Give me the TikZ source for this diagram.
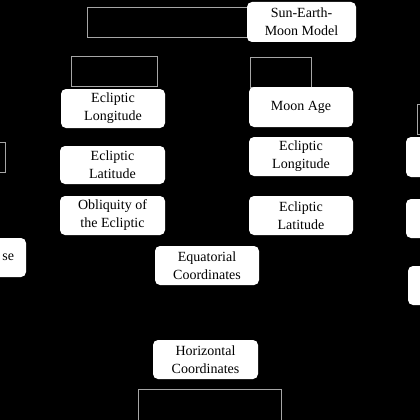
\documentclass[tikz,border=0pt]{standalone}
\usepackage{fontspec}
\setmainfont{Liberation Serif}

\begin{document}
\begin{tikzpicture}[x=1pt, y=-1pt,
    box/.style={fill=white, rounded corners=5pt, align=center, inner sep=0pt,
        minimum width=104pt, minimum height=39pt,
        font=\fontsize{14}{18}\selectfont},
    frame/.style={draw=black!35, line width=0.9pt}]
    % Background
    \fill[black] (0,0) rectangle (420,420);
    \useasboundingbox (0,0) rectangle (420,420);

    % Empty frames
    \draw[frame] (87,7) rectangle (248,37);
    \draw[frame] (71,56) rectangle (157,86);
    \draw[frame] (250,57) rectangle (311,87);
    \draw[frame] (-20,142) rectangle (5,172);
    \draw[frame] (417,104) rectangle (440,134);
    \draw[frame] (138,389) rectangle (281,440);

    % Model
    \node[box, minimum width=109pt, minimum height=40pt] (model) at (301.5,22) {Sun-Earth-\\Moon Model};

    % Left column
    \node[box] (sunlon) at (113,108.5) {Ecliptic\\Longitude};
    \node[box, minimum width=105pt, minimum height=38pt] (sunlat) at (112.5,165) {Ecliptic\\Latitude};
    \node[box, minimum width=105pt] (obliq) at (112.5,215.5) {Obliquity of\\the Ecliptic};

    % Right column
    \node[box, minimum height=40pt] (moonage) at (301,107) {Moon Age};
    \node[box] (moonlon) at (301,156.5) {Ecliptic\\Longitude};
    \node[box] (moonlat) at (301,215.5) {Ecliptic\\Latitude};

    % Coordinates
    \node[box] (equat) at (207,265.5) {Equatorial\\Coordinates};
    \node[box, minimum width=105pt] (horiz) at (205.5,359.5) {Horizontal\\Coordinates};

    % Cut boxes at the edges
    \node[box, minimum width=106pt] (phase) at (-27,257.5) {};
    \node[anchor=east, inner sep=0pt, font=\fontsize{14}{18}\selectfont] (phasetxt) at ([xshift=-12pt]phase.east) {se};
    \node[box, minimum width=104pt, minimum height=40pt] (rbox1) at (458,157) {};
    \node[box] (rbox2) at (458,218.5) {};
    \node[box] (rbox3) at (460,285.5) {};

\end{tikzpicture}
\end{document}
